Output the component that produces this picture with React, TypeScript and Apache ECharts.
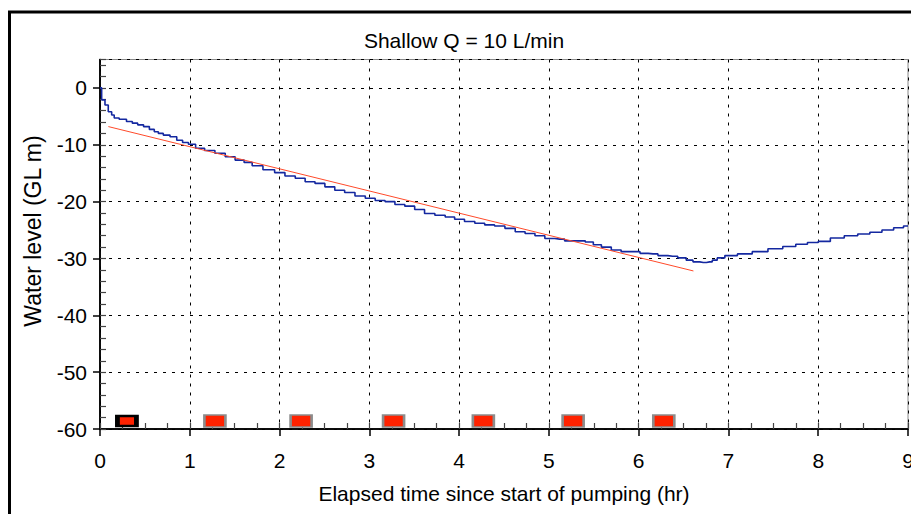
import React, { useEffect, useRef } from "react";
import * as echarts from "echarts";

const titleText = "Shallow Q = 10 L/min";
const xName = "Elapsed time since start of pumping (hr)";
const yName = "Water level (GL m)";

// Observed water level (hours, m)
const waterLevel: [number, number][] = [
  [0, 0], [0.037, -2.1], [0.074, -3.0], [0.11, -4.2], [0.15, -4.75], [0.167, -5.3],
  [0.26, -5.5], [0.33, -5.9], [0.39, -6.2], [0.45, -6.5], [0.52, -6.8], [0.58, -7.3],
  [0.63, -7.7], [0.67, -8.0], [0.74, -8.3], [0.82, -8.6], [0.89, -9.2], [0.95, -9.6],
  [1.02, -9.9], [1.11, -10.6], [1.22, -11.0], [1.34, -11.5], [1.45, -12.1], [1.56, -12.7],
  [1.65, -13.1], [1.74, -13.7], [1.89, -14.4], [2.0, -14.9], [2.12, -15.5], [2.23, -15.9],
  [2.34, -16.5], [2.45, -16.8], [2.56, -17.4], [2.67, -18.0], [2.78, -18.4], [2.9, -19.0],
  [3.01, -19.4], [3.12, -19.8], [3.23, -20.0], [3.34, -20.5], [3.45, -20.8], [3.56, -21.4],
  [3.67, -22.1], [3.79, -22.4], [3.9, -22.7], [4.0, -23.1], [4.12, -23.5], [4.23, -23.8],
  [4.34, -24.1], [4.45, -24.3], [4.57, -24.7], [4.68, -25.3], [4.79, -25.6], [4.9, -26.0],
  [5.01, -26.5], [5.12, -26.6], [5.23, -26.9], [5.35, -26.9], [5.46, -27.1], [5.53, -27.6],
  [5.64, -28.0], [5.75, -28.5], [5.86, -28.8], [5.98, -28.8], [6.05, -29.1], [6.16, -29.2],
  [6.27, -29.5], [6.38, -29.6], [6.49, -29.9], [6.57, -30.3], [6.64, -30.6], [6.72, -30.7],
  [6.79, -30.6], [6.85, -30.3], [6.9, -29.9], [7.02, -29.5], [7.18, -29.2], [7.35, -28.8],
  [7.53, -28.3], [7.68, -27.9], [7.82, -27.5], [7.94, -27.2], [8.06, -27.0], [8.21, -26.4],
  [8.37, -26.0], [8.51, -25.7], [8.64, -25.4], [8.78, -25.0], [8.9, -24.6], [9.0, -24.3],
];

// Fitted straight line (hours, m)
const fitLine: [number, number][] = [
  [0.093, -6.8],
  [6.61, -32.2],
];

// Sample markers along the bottom
const firstMarker: [number, number][] = [[0.3, -58.6]];
const otherMarkers: [number, number][] = [
  [1.28, -58.6], [2.24, -58.6], [3.27, -58.6], [4.27, -58.6], [5.27, -58.6], [6.28, -58.6],
];

const xMin = 0, xMax = 9, xInterval = 1;
const yMin = -60, yMax = 5, yInterval = 10;

const FONT = "'Liberation Sans', Arial, sans-serif";

export default function App() {
  const ref = useRef<HTMLDivElement>(null);
  useEffect(() => {
    if (!ref.current) return;
    const chart = echarts.init(ref.current, null, { renderer: "svg" });
    const dash = { color: "#000", type: [3, 6] as any, width: 1 };
    chart.setOption({
      animation: false,
      backgroundColor: "#fff",
      textStyle: { fontFamily: FONT, color: "#000" },
      title: {
        text: titleText,
        left: 459,
        top: 25,
        textAlign: "center",
        textStyle: { fontFamily: FONT, fontSize: 21, fontWeight: "normal", color: "#000" },
      },
      graphic: [
        {
          type: "rect",
          left: 7,
          top: 9.5,
          shape: { width: 1000, height: 1000 },
          style: { fill: "none", stroke: "#000", lineWidth: 3 },
          silent: true,
        },
        {
          type: "text",
          x: 33,
          y: 231,
          rotation: Math.PI / 2,
          style: {
            text: yName,
            fontFamily: FONT,
            fontSize: 23,
            fill: "#000",
            align: "center",
            verticalAlign: "middle",
          },
          silent: true,
        },
      ],
      grid: {
        left: 100,
        right: 3,
        top: 59.5,
        bottom: 85,
        show: true,
        borderColor: "#8a8a8a",
        borderWidth: 1,
        containLabel: false,
        outerBoundsMode: "none",
      },
      xAxis: [
        {
          type: "value",
          min: xMin,
          max: xMax,
          interval: xInterval,
          name: xName,
          nameLocation: "middle",
          nameGap: 54,
          nameTextStyle: { fontFamily: FONT, fontSize: 21, color: "#000" },
          axisLine: { show: true, onZero: false, lineStyle: { color: "#000", width: 1.5 } },
          axisTick: { show: true, length: 7, lineStyle: { color: "#000", width: 1.5 } },
          axisLabel: { fontFamily: FONT, fontSize: 21, color: "#000", margin: 21, showMaxLabel: true },
          splitLine: { show: true, lineStyle: dash },
        },
        {
          type: "value",
          min: xMin,
          max: xMax,
          interval: 0.25,
          position: "bottom",
          axisLine: { show: true, onZero: false, lineStyle: { color: "#000", width: 1.5 } },
          axisTick: { show: true, inside: true, length: 6, lineStyle: { color: "#444", width: 1.2 } },
          axisLabel: { show: false },
          splitLine: { show: false },
        },
      ],
      yAxis: [
        {
          type: "value",
          min: yMin,
          max: yMax,
          interval: yInterval,
          axisLine: { show: true, onZero: false, lineStyle: { color: "#000", width: 1.5 } },
          axisTick: { show: true, length: 7, lineStyle: { color: "#000", width: 1.5 } },
          axisLabel: { fontFamily: FONT, fontSize: 21, color: "#000", margin: 13, showMaxLabel: false },
          splitLine: { show: true, lineStyle: dash },
        },
        {
          type: "value",
          min: yMin,
          max: yMax,
          interval: 2,
          position: "left",
          axisLine: { show: true, onZero: false, lineStyle: { color: "#000", width: 1.5 } },
          axisTick: { show: true, inside: true, length: 6, lineStyle: { color: "#444", width: 1.2 } },
          axisLabel: { show: false },
          splitLine: { show: false },
        },
      ],
      series: [
        {
          type: "line",
          name: "Water level",
          data: waterLevel,
          xAxisIndex: 1,
          yAxisIndex: 1,
          step: "middle",
          showSymbol: false,
          symbol: "none",
          lineStyle: { color: "#1428a0", width: 1.6 },
          z: 3,
        },
        {
          type: "line",
          name: "Fit",
          data: fitLine,
          xAxisIndex: 1,
          yAxisIndex: 1,
          showSymbol: false,
          symbol: "none",
          lineStyle: { color: "#ff4a2a", width: 1 },
          z: 4,
        },
        {
          type: "scatter",
          name: "Sample 1",
          data: firstMarker,
          xAxisIndex: 0,
          yAxisIndex: 0,
          symbol: "rect",
          symbolSize: [19, 10],
          itemStyle: { color: "#ff2200", borderColor: "#000", borderWidth: 3.5, opacity: 1 },
          z: 5,
        },
        {
          type: "scatter",
          name: "Samples",
          data: otherMarkers,
          xAxisIndex: 0,
          yAxisIndex: 0,
          symbol: "rect",
          symbolSize: [21, 12],
          itemStyle: { color: "#ff2200", borderColor: "#8c8c8c", borderWidth: 2, opacity: 1 },
          z: 5,
        },
      ],
    });
    return () => chart.dispose();
  }, []);
  return (
    <div
      ref={ref}
      style={{ position: "fixed", left: 0, top: 0, width: 911, height: 514 }}
    />
  );
}
